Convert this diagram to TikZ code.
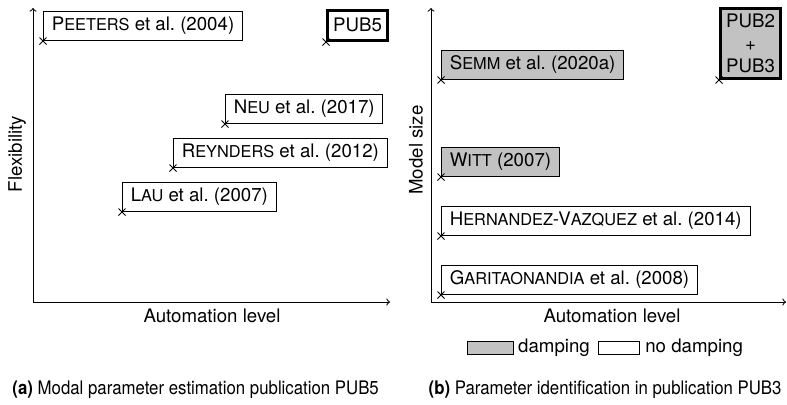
\documentclass[tikz,border=0pt]{standalone}
\usepackage{fontspec}
\setmainfont{TeX Gyre Heros}
\newfontfamily\capfont[FakeStretch=0.9]{TeX Gyre Heros}
\usetikzlibrary{arrows.meta, positioning}
\definecolor{dampGray}{gray}{0.76}
\newcommand{\figfont}{\fontsize{11.2}{13.5}\selectfont}
\newcommand{\scname}[2]{#1{\fontsize{9.8}{11}\selectfont #2}}

\tikzset{
  pub/.style={draw, anchor=south west, inner xsep=5pt, minimum height=17.4pt},
  damp/.style={pub, fill=dampGray},
  own/.style={draw, line width=2pt, anchor=south west, inner sep=3.3pt, minimum height=18pt, align=center},
  swatch/.style={draw, minimum height=7.8pt, inner sep=0pt},
}

\begin{document}
\begin{tikzpicture}[x=0.6pt, y=-0.6pt, >=to, line width=0.6pt, font=\figfont]
    \useasboundingbox (0,0) rectangle (787,404);

    % (a) Axes
    \coordinate (Oa) at (33,302);
    \coordinate (Ya) at (33,8);
    \coordinate (Xa) at (390,302);
    \draw[->] (Oa) -- (Ya);
    \draw[->] (Oa) -- (Xa);
    \node[rotate=90] (flexLabel) at (17,154) {Flexibility};
    \node (autoLabelA) at (212,316) {Automation level};

    % (a) Publications
    \coordinate (peeters) at (43,41);
    \coordinate (pubfive) at (326,42);
    \coordinate (neu) at (225,124);
    \coordinate (reynders) at (173,168);
    \coordinate (lau) at (122,212);
    \node[pub] (peetersBox) at (peeters) {\scname{P}{EETERS} et al.\ (2004)};
    \node[own] (pubfiveBox) at (pubfive) {PUB5};
    \node[pub] (neuBox) at (neu) {\scname{N}{EU} et al.\ (2017)};
    \node[pub] (reyndersBox) at (reynders) {\scname{R}{EYNDERS} et al.\ (2012)};
    \node[pub] (lauBox) at (lau) {\scname{L}{AU} et al.\ (2007)};

    % (b) Axes
    \coordinate (Ob) at (431,302);
    \coordinate (Yb) at (431,8);
    \coordinate (Xb) at (786,302);
    \draw[->] (Ob) -- (Yb);
    \draw[->] (Ob) -- (Xb);
    \node[rotate=90] (sizeLabel) at (416,150) {Model size};
    \node (autoLabelB) at (612,316) {Automation level};

    % (b) Publications
    \coordinate (semm) at (441,80);
    \coordinate (pubtwothree) at (719,80);
    \coordinate (witt) at (441,177);
    \coordinate (hernandez) at (441,236);
    \coordinate (garita) at (441,295);
    \node[damp] (semmBox) at (semm) {\scname{S}{EMM} et al.\ (2020a)};
    \node[own, fill=dampGray] (pubtwothreeBox) at (pubtwothree) {PUB2\\+\\PUB3};
    \node[damp] (wittBox) at (witt) {\scname{W}{ITT} (2007)};
    \node[pub] (hernandezBox) at (hernandez) {\scname{H}{ERNANDEZ}-\scname{V}{AZQUEZ} et al.\ (2014)};
    \node[pub] (garitaBox) at (garita) {\scname{G}{ARITAONANDIA} et al.\ (2008)};

    % Crosses
    \foreach \p in {peeters, pubfive, neu, reynders, lau, semm, pubtwothree, witt, hernandez, garita}
        \draw (\p) ++(-3.5,-3.5) -- ++(7,7) ++(0,-7) -- ++(-7,7);

    % Legend
    \node[swatch, fill=dampGray, minimum width=28pt] (dampSwatch) at (490.5,347.5) {};
    \node[inner sep=0pt, right=2pt of dampSwatch] (dampText) {damping};
    \node[swatch, minimum width=24.6pt, right=4.5pt of dampText] (nodampSwatch) {};
    \node[inner sep=0pt, right=3pt of nodampSwatch] (nodampText) {no damping};

    % Captions
    \node[font={\figfont\capfont}, anchor=west, inner sep=0pt] (capA) at (12,390) {\textbf{(a)} Modal parameter estimation publication PUB5};
    \node[font={\figfont\capfont}, anchor=east, inner sep=0pt] (capB) at (782,390) {\textbf{(b)} Parameter identification in publication PUB3};
\end{tikzpicture}
\end{document}
